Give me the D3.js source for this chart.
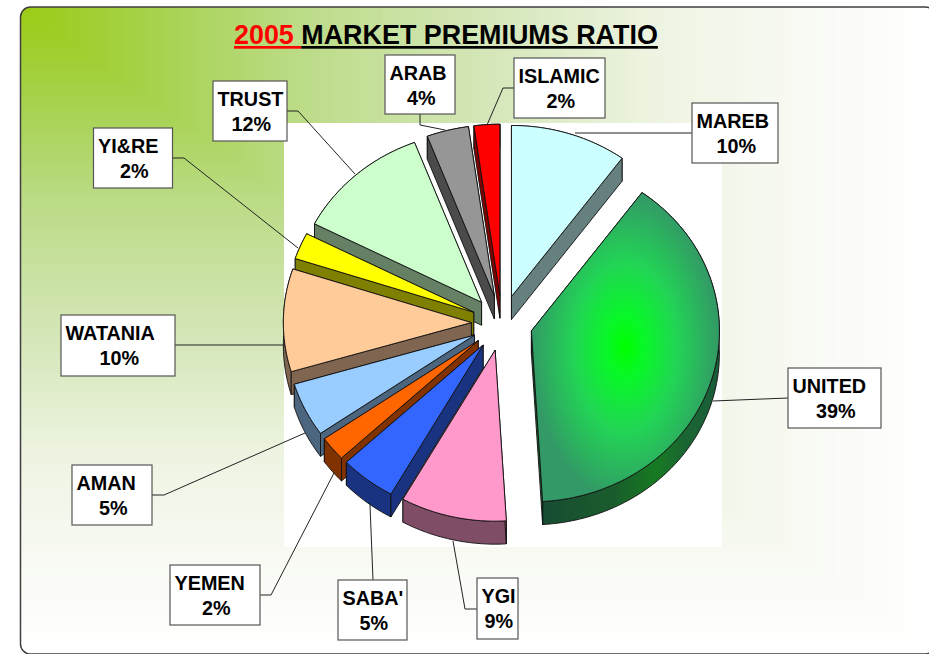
<!DOCTYPE html>
<html>
<head>
<meta charset="utf-8">
<script src="https://cdn.jsdelivr.net/npm/d3@7"></script>
<style>
html,body{margin:0;padding:0;background:#fff;overflow:hidden}
svg{display:block}
text{font-family:"Liberation Sans",Arial,sans-serif;font-weight:bold;fill:#000}
</style>
</head>
<body>
<svg id="chart" width="929" height="654"></svg>
<script>
// ---- data ----
const categories = ["MAREB","UNITED","YGI","SABA'","YEMEN","AMAN","WATANIA","YI&RE","TRUST","ARAB","ISLAMIC"];
const values     = [10,39,9.1,4.8,2.3,5.1,9.7,2.5,11.6,3.6,2.2];
const percentLabels = ["10%","39%","9%","5%","2%","5%","10%","2%","12%","4%","2%"];
const titleYear = "2005 ";
const titleRest = "MARKET PREMIUMS RATIO";
// ---- styles ----
const sliceColors = ["#CCFFFF","url(#unitedTop)","#FF99CC","#3366FF","#FF6600","#99CCFF","#FFCC99","#FFFF00","#CCFFCC","#969696","#FF0000"];
const wallColors  = ["#668080","url(#unitedWall)","#804D66","#1A3380","#803300","#4D6680","#806650","#808000","#668066","#4B4B4B","#800000"];
// ---- layout: label boxes [x0,y0,x1,y1] and leader polylines ----
const labelBoxes = [[692,103,778,163],[788,368,881,428],[477,578,518,639],[338,580,407,640],[170,565,260,625],
                    [72,465,152,525],[61,315,175,376],[93.5,128,172.5,188],[213,81,287,141],[385,55,455,114],[514,58,605,118]];
const leaders = [[[692,133],[575,133]],[[788,398],[713,401]],[[477,609],[465,609],[453,541]],[[373,580],[370,505]],
                 [[260,595],[271,595],[334,473]],[[152,495],[164,495],[305,433]],[[175,345],[187,345],[284,345]],
                 [[172.5,158],[184,158],[298,248]],[[287,111],[298,111],[355,174]],[[420,114],[420,125],[445,130]],[[514,88],[503,88],[487,125]]];
const bgStops = [[0,"#9CCB14"],[.15,"#A6D24E"],[.3,"#BBDB85"],[.5,"#D3E6B6"],[.7,"#EEF4E2"],[.85,"#F8FAF3"],[1,"#FFFFFF"]];
// back-to-front painting order (indexes into categories)
const paintOrder = [0,10,9,8,7,6,5,4,3,2,1];

const svg = d3.select("#chart");
const defs = svg.append("defs");

// panel
const panel = {x:20.5,y:7,w:915,h:647,r:10};
defs.append("clipPath").attr("id","panelClip").append("rect")
  .attr("x",panel.x).attr("y",panel.y).attr("width",panel.w).attr("height",panel.h).attr("rx",panel.r);
const bgColor = d3.scaleLinear().domain(bgStops.map(d=>d[0])).range(bgStops.map(d=>d[1]));
const bg = svg.append("g").attr("clip-path","url(#panelClip)");
bg.selectAll("rect").data(d3.range(1,0,-1/220)).join("rect")
  .attr("x",panel.x).attr("y",panel.y)
  .attr("width",t=>t*panel.w).attr("height",t=>t*panel.h)
  .attr("fill",t=>bgColor(t)).attr("shape-rendering","crispEdges");
svg.append("rect").attr("x",panel.x).attr("y",panel.y).attr("width",panel.w).attr("height",panel.h).attr("rx",panel.r)
  .attr("fill","none").attr("stroke","#3f3f3f").attr("stroke-width",1.5);
// plot area
svg.append("rect").attr("x",284).attr("y",123).attr("width",438).attr("height",424).attr("fill","#fff");

// gradients
const g1 = defs.append("radialGradient").attr("id","unitedTop").attr("cx",.5).attr("cy",.5).attr("r",.5);
[[0,"#00FF00"],[.2,"#08F828"],[.55,"#22D455"],[1,"#339966"]].forEach(s=>g1.append("stop").attr("offset",s[0]).attr("stop-color",s[1]));
const g2 = defs.append("linearGradient").attr("id","unitedWall").attr("x1",0).attr("x2",1).attr("y1",0).attr("y2",0);
[[0,"#174D33"],[.4,"#1A5C2C"],[.64,"#167A22"],[.8,"#1A6632"],[1,"#1A5C3A"]].forEach(s=>g2.append("stop").attr("offset",s[0]).attr("stop-color",s[1]));

// pie geometry
const cx = 502, cy = 323, rx = 188, ry = 171, depth = 23, explode = 0.163;
const xs = d3.scaleLinear().domain([-1,1]).range([cx-rx,cx+rx]);
const ys = d3.scaleLinear().domain([-1,1]).range([cy-ry,cy+ry]);
const arcs = d3.pie().sort(null)(values);
const line = d3.line();
const slices = arcs.map((a,i)=>{
  const m = (a.startAngle+a.endAngle)/2;
  const ox = explode*Math.sin(m), oy = -explode*Math.cos(m);
  const P = (r,t)=>[xs(ox+r*Math.sin(t)), ys(oy-r*Math.cos(t))];
  const n = Math.max(4,Math.ceil((a.endAngle-a.startAngle)/0.02));
  const outer = d3.range(n+1).map(k=>P(1,a.startAngle+(a.endAngle-a.startAngle)*k/n));
  return {i,apex:P(0,0),outer,leftSide:m>Math.PI};
});
const down = p=>[p[0],p[1]+depth];
const pie = svg.append("g").attr("stroke","#111").attr("stroke-width",0.9).attr("stroke-linejoin","round");
paintOrder.forEach(idx=>{
  const s = slices[idx], g = pie.append("g").attr("class","slice");
  const first = s.outer[0], last = s.outer[s.outer.length-1];
  const radial = e=>g.append("path").attr("d",line([s.apex,e,down(e),down(s.apex)])+"Z").attr("fill",wallColors[idx]);
  radial(s.leftSide?last:first);   // hidden-side radial face first
  g.append("path").attr("d",line(s.outer.concat(s.outer.slice().reverse().map(down)))+"Z").attr("fill",wallColors[idx]);
  radial(s.leftSide?first:last);   // visible radial face over it
  g.append("path").attr("d",line([s.apex].concat(s.outer))+"Z").attr("fill",sliceColors[idx]);
});

// leaders
svg.append("g").attr("fill","none").attr("stroke","#222").attr("stroke-width",1)
  .selectAll("path").data(leaders).join("path").attr("d",d=>line(d));

// labels
const lab = svg.append("g").selectAll("g").data(categories).join("g");
lab.append("rect")
  .attr("x",(d,i)=>labelBoxes[i][0]).attr("y",(d,i)=>labelBoxes[i][1])
  .attr("width",(d,i)=>labelBoxes[i][2]-labelBoxes[i][0]).attr("height",(d,i)=>labelBoxes[i][3]-labelBoxes[i][1])
  .attr("fill","#fff").attr("stroke","#555").attr("stroke-width",1.2);
lab.append("text").attr("font-size",19.8)
  .attr("x",(d,i)=>labelBoxes[i][0]+4.5).attr("y",(d,i)=>labelBoxes[i][1]+25).text(d=>d);
lab.append("text").attr("font-size",19.8).attr("text-anchor","middle")
  .attr("x",(d,i)=>(labelBoxes[i][0]+labelBoxes[i][2])/2+1.2).attr("y",(d,i)=>labelBoxes[i][1]+50)
  .text((d,i)=>percentLabels[i]);

// title
const title = svg.append("text").attr("x",234).attr("y",44).attr("font-size",26.9).style("white-space","pre");
title.append("tspan").style("fill","#FF0000").style("text-decoration","underline").text(titleYear);
title.append("tspan").style("text-decoration","underline").text(titleRest);
</script>
</body>
</html>
